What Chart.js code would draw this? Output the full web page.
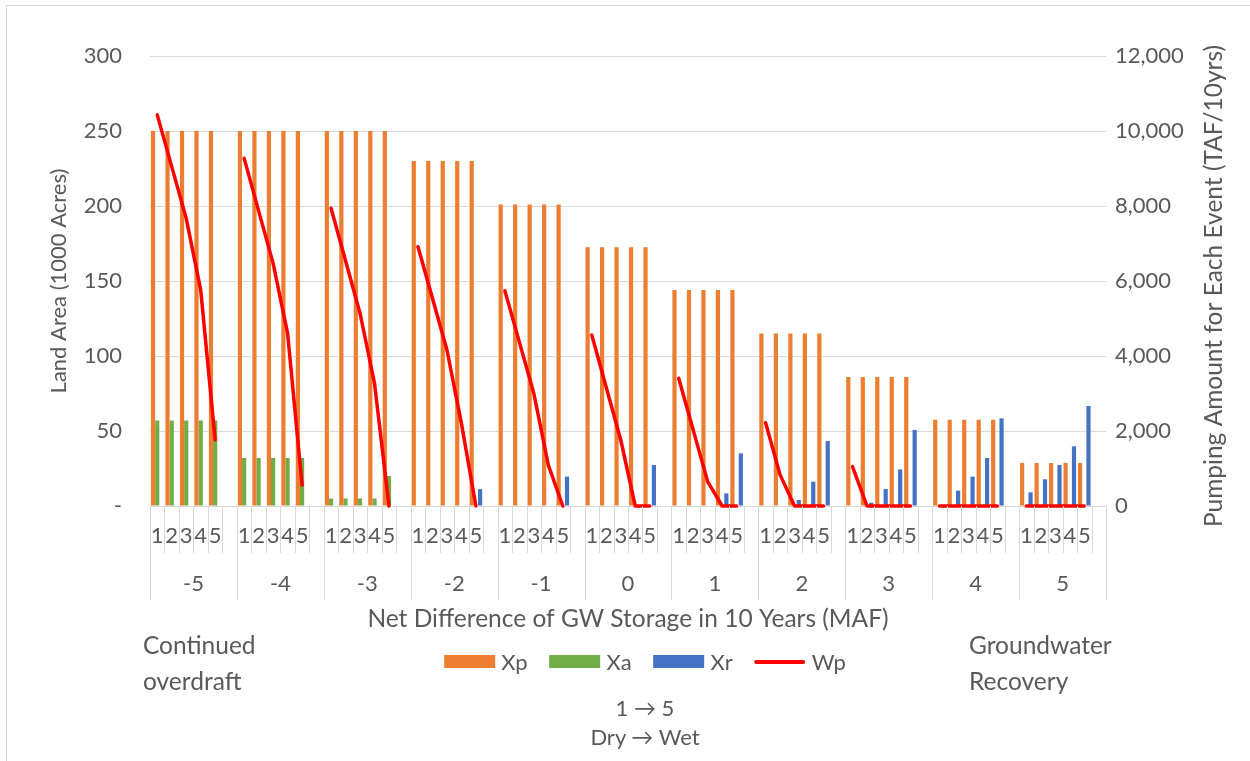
<!DOCTYPE html>
<html>
<head>
<meta charset="utf-8">
<script src="https://cdn.jsdelivr.net/npm/chart.js@4.4.1/dist/chart.umd.min.js"></script>
<style>
  body { margin: 0; background: #fff; font-family: Lato, sans-serif; color: #595959; }
  #wrap { position: relative; width: 1250px; height: 761px; overflow: hidden; }
  #frame { position: absolute; left: 6px; top: 5px; width: 1300px; height: 800px; border: 1px solid #d9d9d9; box-sizing: border-box; }
  #chartBox { position: absolute; left: 0; top: 0; width: 1250px; height: 761px; }
  .note { position: absolute; font-size: 24.5px; line-height: 36px; color: #595959; white-space: nowrap; }
  #legend { position: absolute; top: 648px; left: 645px; transform: translateX(-50%); display: flex; align-items: center; font-size: 22px; }
  #legend .item { display: flex; align-items: center; margin: 0 11px; }
  #legend .sw { width: 51px; height: 13px; margin-right: 6px; }
  #legend .ln { width: 51px; height: 4px; margin-right: 6px; border-radius: 2px; }
</style>
</head>
<body>
<div id="wrap">
  <div id="frame"></div>
  <div id="chartBox"><canvas id="myChart"></canvas></div>
  <div class="note" style="left:143px; top:627px;">Continued<br>overdraft</div>
  <div class="note" style="left:969px; top:627px;">Groundwater<br>Recovery</div>
  <div class="note" style="left:645px; top:693px; transform:translateX(-50%); font-size:22px; line-height:29px; text-align:center;">1 → 5<br>Dry → Wet</div>
  <div id="legend"></div>
</div>
<script>
'use strict';

// net difference of GW storage (MAF), each with 5 events (dry -> wet)
let groups=['-5','-4','-3','-2','-1','0','1','2','3','4','5'];
let events=['1','2','3','4','5'];

// land area (1000 acres), one row per group
let xp=[
  [250,250,250,250,250],
  [250,250,250,250,250],
  [250,250,250,250,250],
  [230,230,230,230,230],
  [201,201,201,201,201],
  [172.5,172.5,172.5,172.5,172.5],
  [144,144,144,144,144],
  [115,115,115,115,115],
  [86,86,86,86,86],
  [57.5,57.5,57.5,57.5,57.5],
  [28.7,28.7,28.7,28.7,28.7]
];
let xa=[
  [57,57,57,57,57],
  [32,32,32,32,32],
  [5,5,5,5,20],
  [0,0,0,0,0],
  [0,0,0,0,0],
  [0,0,0,0,0],
  [0,0,0,0,0],
  [0,0,0,0,0],
  [0,0,0,0,0],
  [0,0,0,0,0],
  [0,0,0,0,0]
];
let xr=[
  [0,0,0,0,0],
  [0,0,0,0,0],
  [0,0,0,0,0],
  [0,0,0,0,11.3],
  [0,0,0,0,19.6],
  [0,0,0,0,27.3],
  [0,0,0,8.4,35.1],
  [0,0,4,16.2,43.3],
  [0,2.2,11.3,24.4,50.7],
  [0,10.2,19.6,32,58.4],
  [9.1,17.8,27.3,39.8,66.7]
];
// pumping amount (TAF/10yrs)
let wp=[
  [10430,9050,7670,5760,1760],
  [9270,7870,6470,4605,560],
  [7940,6540,5140,3270,0],
  [6915,5540,4160,2205,0],
  [5740,4370,3000,1090,0],
  [4560,3160,1760,0,0],
  [3405,2030,650,0,0],
  [2220,830,0,0,0],
  [1050,0,0,0,0],
  [0,0,0,0,0],
  [0,0,0,0,0]
];

let leftTicks=[0,50,100,150,200,250,300];
let rightTicks=[0,2000,4000,6000,8000,10000,12000];

// every group gets an empty slot after its 5 events
function flat(rows){
  let out=[];
  for(let g=0;g<rows.length;g++){
    for(let i=0;i<rows[g].length;i++){ out.push(rows[g][i]); }
    out.push(null);
  }
  return out;
}
let labels=[];
for(let g=0;g<groups.length;g++){
  for(let i=0;i<events.length;i++){ labels.push(events[i]); }
  labels.push('');
}

const FONT='Lato';
const GREY='#595959';
const GRID='#d9d9d9';

const groupAxis={
  id:'groupAxis',
  afterDraw(chart){
    const ctx=chart.ctx;
    const xs=chart.scales.x;
    const area=chart.chartArea;
    const step=xs.getPixelForValue(1)-xs.getPixelForValue(0);
    const per=events.length+1;
    ctx.save();
    ctx.strokeStyle=GRID;
    ctx.lineWidth=1;
    for(let i=0;i<=labels.length;i++){
      let x=Math.round(xs.getPixelForValue(0)-step/2+i*step)+0.5;
      let bottom=(i%per===0)?600:553;
      ctx.beginPath();
      ctx.moveTo(x,area.bottom);
      ctx.lineTo(x,bottom);
      ctx.stroke();
    }
    ctx.fillStyle=GREY;
    ctx.font='22px '+FONT;
    ctx.textAlign='center';
    ctx.textBaseline='middle';
    for(let g=0;g<groups.length;g++){
      let x=(xs.getPixelForValue(g*per)+xs.getPixelForValue(g*per+per-1))/2;
      ctx.fillText(groups[g],x,584);
    }
    // right axis title reads bottom to top like the left one
    ctx.font='24.5px '+FONT;
    ctx.translate(1214,286);
    ctx.rotate(-Math.PI/2);
    ctx.fillText('Pumping Amount for Each Event (TAF/10yrs)',0,0);
    ctx.restore();
  }
};

const data={
  labels:labels,
  datasets:[
    {type:'bar',label:'Xp',data:flat(xp),backgroundColor:'#ED7D31',yAxisID:'y',order:1},
    {type:'bar',label:'Xa',data:flat(xa),backgroundColor:'#70AD47',yAxisID:'y',order:1},
    {type:'bar',label:'Xr',data:flat(xr),backgroundColor:'#4472C4',yAxisID:'y',order:1},
    {type:'line',label:'Wp',data:flat(wp),borderColor:'#FF0000',backgroundColor:'#FF0000',borderWidth:3.5,
      pointRadius:0,spanGaps:false,tension:0,borderCapStyle:'round',borderJoinStyle:'round',yAxisID:'y1',order:0,clip:false}
  ]
};

const config={
  type:'bar',
  data:data,
  options:{
    responsive:true,
    maintainAspectRatio:false,
    animation:false,
    devicePixelRatio:1,
    layout:{padding:{top:56,bottom:125,left:0,right:0}},
    datasets:{bar:{categoryPercentage:0.87,barPercentage:1.0}},
    plugins:{legend:{display:false},tooltip:{enabled:false}},
    scales:{
      x:{
        grid:{display:false,drawTicks:false},
        border:{display:true,color:GRID},
        ticks:{color:GREY,font:{family:FONT,size:22},padding:17,autoSkip:false,maxRotation:0,minRotation:0},
        title:{display:true,text:'Net Difference of GW Storage in 10 Years (MAF)',color:GREY,font:{family:FONT,size:24.5},padding:{top:0,bottom:2}},
        afterFit(s){ s.height=130; }
      },
      y:{
        position:'left',min:0,max:300,
        afterBuildTicks(s){ s.ticks=leftTicks.map(v=>({value:v})); },
        grid:{color:GRID,drawTicks:false},
        border:{display:false},
        ticks:{color:GREY,font:{family:FONT,size:22},padding:28,callback:v=>v===0?'-':v},
        title:{display:true,text:'Land Area (1000 Acres)',color:GREY,font:{family:FONT,size:22},padding:{top:46,bottom:0}},
        afterFit(s){ s.width=150; }
      },
      y1:{
        position:'right',min:0,max:12000,
        afterBuildTicks(s){ s.ticks=rightTicks.map(v=>({value:v})); },
        grid:{display:false,drawTicks:false},
        border:{display:false},
        ticks:{color:GREY,font:{family:FONT,size:22},padding:9,callback:v=>v.toLocaleString('en-US')},
        afterFit(s){ s.width=144; }
      }
    }
  },
  plugins:[groupAxis]
};

const myChart=new Chart(document.getElementById('myChart'),config);

// html legend from the datasets
let legend=document.getElementById('legend');
for(let i=0;i<data.datasets.length;i++){
  let ds=data.datasets[i];
  let item=document.createElement('div');
  item.className='item';
  let sw=document.createElement('span');
  sw.className=ds.type==='line'?'ln':'sw';
  sw.style.background=ds.type==='line'?ds.borderColor:ds.backgroundColor;
  let txt=document.createElement('span');
  txt.textContent=ds.label;
  item.appendChild(sw);
  item.appendChild(txt);
  legend.appendChild(item);
}
</script>
</body>
</html>
